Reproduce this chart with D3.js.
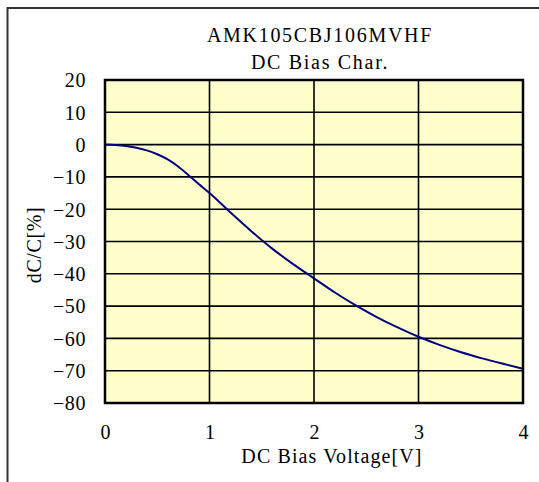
<!DOCTYPE html>
<html><head><meta charset="utf-8">
<script src="https://cdn.jsdelivr.net/npm/d3@7"></script>
<style>body{margin:0;background:#fff}svg{display:block}</style>
</head><body>
<script>
const titleLines = ["AMK105CBJ106MVHF", "DC Bias Char."];
const xLabel = "DC Bias Voltage[V]";
const yLabel = "dC/C[%]";
const xTicks = [0, 1, 2, 3, 4];
const yTicks = [20, 10, 0, -10, -20, -30, -40, -50, -60, -70, -80];
const voltage = [0, 0.1, 0.2, 0.3, 0.4, 0.5, 0.6, 0.7, 0.8, 0.9, 1.0, 1.2, 1.4, 1.6, 1.8, 2.0, 2.2, 2.4, 2.6, 2.8, 3.0, 3.2, 3.4, 3.6, 3.8, 4.0];
const dcdc = [0, -0.1, -0.4, -1.0, -1.8, -3.0, -4.6, -6.8, -9.5, -12.3, -15.0, -21.0, -26.8, -32.2, -37.0, -41.4, -45.8, -49.8, -53.4, -56.6, -59.5, -62.0, -64.2, -66.1, -67.8, -69.4];

const W = 539, H = 482;
const svg = d3.select("body").append("svg").attr("width", W).attr("height", H);
const font = "'Liberation Serif','Times New Roman',serif";

// outer frame
svg.append("rect").attr("x", 7.5).attr("y", 8).attr("width", 700).attr("height", 700)
  .attr("fill", "none").attr("stroke", "#333").attr("stroke-width", 2);

const L = 105, R = 523, T = 80, B = 403;
const x = d3.scaleLinear().domain([0, 4]).range([L, R]);
const y = d3.scaleLinear().domain([-80, 20]).range([B, T]);

svg.append("rect").attr("x", L).attr("y", T).attr("width", R - L).attr("height", B - T)
  .attr("fill", "#FFFFCC");

// grid
svg.append("g").selectAll("line").data(yTicks).join("line")
  .attr("x1", L).attr("x2", R).attr("y1", d => y(d)).attr("y2", d => y(d))
  .attr("stroke", "#000").attr("stroke-width", 1.6);
svg.append("g").selectAll("line").data(xTicks).join("line")
  .attr("y1", T).attr("y2", B).attr("x1", d => x(d)).attr("x2", d => x(d))
  .attr("stroke", "#000").attr("stroke-width", 1.6);

// curve
const line = d3.line().x((d, i) => x(voltage[i])).y(d => y(d)).curve(d3.curveMonotoneX);
svg.append("path").datum(dcdc).attr("d", line).attr("fill", "none")
  .attr("stroke", "#000080").attr("stroke-width", 2);

// plot border
svg.append("rect").attr("x", L).attr("y", T).attr("width", R - L).attr("height", B - T)
  .attr("fill", "none").attr("stroke", "#000").attr("stroke-width", 2.5);

// axes labels (via d3 axes, styled)
const yAxis = svg.append("g").attr("transform", `translate(${L - 19},0)`)
  .call(d3.axisLeft(y).tickValues(yTicks).tickSize(0).tickPadding(0).tickFormat(d3.format("d")));
yAxis.select(".domain").remove();
yAxis.selectAll("text").attr("font-family", font).attr("font-size", 20).attr("fill", "#000")
  .attr("letter-spacing", 0.6).attr("dy", "0.34em");

const xAxis = svg.append("g").attr("transform", `translate(0,${B + 22})`)
  .call(d3.axisBottom(x).tickValues(xTicks).tickSize(0).tickPadding(0).tickFormat(d3.format("d")));
xAxis.select(".domain").remove();
xAxis.selectAll("text").attr("font-family", font).attr("font-size", 20).attr("fill", "#000").attr("dy", "0.7em");

// titles
svg.append("g").selectAll("text").data(titleLines).join("text")
  .attr("x", 320).attr("y", (d, i) => 42 + i * 26.5)
  .attr("text-anchor", "middle").attr("font-family", font).attr("font-size", 20)
  .attr("letter-spacing", 1.7).text(d => d);

svg.append("text").attr("x", 332).attr("y", 463).attr("text-anchor", "middle")
  .attr("font-family", font).attr("font-size", 20).attr("letter-spacing", 1.1).text(xLabel);

svg.append("text").attr("transform", "translate(41,245) rotate(-90)").attr("text-anchor", "middle")
  .attr("font-family", font).attr("font-size", 20).attr("letter-spacing", 0.6).text(yLabel);
</script>
</body></html>
